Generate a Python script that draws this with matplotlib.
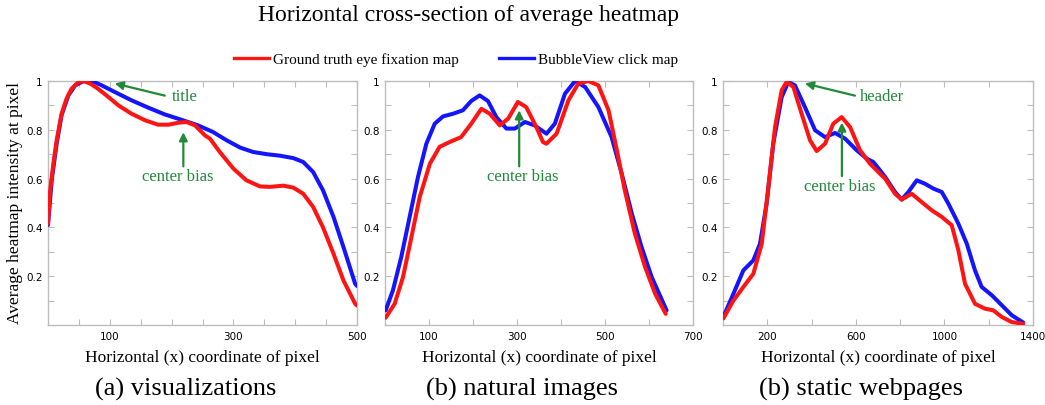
import numpy as np
import matplotlib
matplotlib.use("Agg")
import matplotlib.pyplot as plt
from matplotlib.lines import Line2D

SERIF = "Liberation Serif"
RED = "#ff1414"
BLUE = "#1414ff"
GREEN = "#23893a"
GRID = "#bdbdbd"

# (a) visualizations
vis_x_gt = [0, 3, 8.6, 14, 22, 30, 38, 49, 57, 68, 81, 98, 114, 135, 157, 178, 195, 211, 224, 238, 254,
            262, 278, 300, 321, 343, 359, 381, 397, 413, 429, 445, 462, 478, 497, 500]
vis_y_gt = [0.415, 0.54, 0.66, 0.757, 0.866, 0.927, 0.968, 0.995, 1.0, 0.99, 0.968, 0.934, 0.90, 0.866, 0.839,
            0.821, 0.821, 0.829, 0.832, 0.818, 0.777, 0.764, 0.709, 0.641, 0.593, 0.568, 0.566, 0.571, 0.563,
            0.538, 0.484, 0.40, 0.292, 0.183, 0.087, 0.08]
vis_x_bv = [0, 6, 14, 22, 33, 44, 57, 71, 87, 108, 135, 162, 189, 216, 243, 267, 289, 311, 332, 354, 375,
            397, 413, 429, 445, 462, 478, 497, 500]
vis_y_bv = [0.41, 0.593, 0.743, 0.86, 0.941, 0.982, 0.999, 1.0, 0.982, 0.955, 0.921, 0.891, 0.863, 0.841,
            0.818, 0.791, 0.757, 0.727, 0.709, 0.70, 0.694, 0.684, 0.668, 0.627, 0.552, 0.443, 0.32, 0.169, 0.16]

# (b) natural images
nat_x_gt = [1.5, 22, 41, 60, 79, 102, 124, 147, 173, 196, 219, 238, 261, 280, 302, 321, 344, 359, 367, 390,
            417, 439, 462, 485, 508, 527, 545, 568, 591, 614, 638]
nat_y_gt = [0.03, 0.087, 0.197, 0.36, 0.525, 0.661, 0.73, 0.75, 0.77, 0.825, 0.886, 0.866, 0.818, 0.846,
            0.914, 0.893, 0.811, 0.75, 0.743, 0.784, 0.921, 0.989, 1.0, 0.982, 0.88, 0.716, 0.552, 0.374,
            0.238, 0.128, 0.046]
nat_x_bv = [1.5, 18, 37, 56, 75, 94, 113, 132, 155, 177, 196, 215, 234, 253, 276, 295, 318, 340, 367, 386,
            409, 432, 455, 485, 515, 538, 561, 583, 606, 640]
nat_y_bv = [0.06, 0.142, 0.279, 0.443, 0.607, 0.743, 0.825, 0.855, 0.866, 0.88, 0.918, 0.941, 0.918, 0.852,
            0.805, 0.805, 0.832, 0.818, 0.784, 0.825, 0.948, 1.0, 0.975, 0.893, 0.77, 0.62, 0.456, 0.32,
            0.197, 0.06]

# (c) static webpages
web_x_gt = [1.5, 47, 92, 137, 175, 205, 235, 265, 288, 318, 355, 393, 423, 461, 498, 536, 574, 619, 664,
            709, 732, 777, 807, 852, 897, 943, 988, 1033, 1063, 1093, 1138, 1183, 1221, 1259, 1304, 1356]
web_y_gt = [0.027, 0.10, 0.156, 0.21, 0.333, 0.566, 0.811, 0.962, 0.997, 0.975, 0.866, 0.757, 0.713, 0.743,
            0.825, 0.852, 0.811, 0.716, 0.661, 0.62, 0.60, 0.538, 0.514, 0.538, 0.504, 0.47, 0.443, 0.409,
            0.306, 0.169, 0.087, 0.067, 0.06, 0.033, 0.012, 0.005]
web_x_bv = [1.5, 47, 92, 137, 167, 197, 227, 265, 295, 325, 370, 416, 461, 506, 551, 604, 649, 679, 709,
            732, 777, 807, 837, 875, 912, 950, 988, 1018, 1063, 1101, 1138, 1168, 1214, 1259, 1304, 1356]
web_y_bv = [0.033, 0.128, 0.224, 0.265, 0.333, 0.497, 0.743, 0.934, 0.996, 0.982, 0.893, 0.798, 0.77, 0.787,
            0.764, 0.716, 0.682, 0.668, 0.634, 0.607, 0.545, 0.514, 0.545, 0.593, 0.579, 0.559, 0.545, 0.497,
            0.415, 0.333, 0.224, 0.156, 0.122, 0.081, 0.04, 0.01]

panels = [
    dict(left=48, width=309, xlim=500, xticks=np.arange(50, 501, 50), xlabels=[100, 300, 500],
         gt=(vis_x_gt, vis_y_gt), bv=(vis_x_bv, vis_y_bv), caption="(a) visualizations"),
    dict(left=385, width=308, xlim=700, xticks=np.arange(100, 701, 100), xlabels=[100, 300, 500, 700],
         gt=(nat_x_gt, nat_y_gt), bv=(nat_x_bv, nat_y_bv), caption="(b) natural images"),
    dict(left=723, width=310, xlim=1400, xticks=np.arange(200, 1401, 200), xlabels=[200, 600, 1000, 1400],
         gt=(web_x_gt, web_y_gt), bv=(web_x_bv, web_y_bv), caption="(b) static webpages"),
]

W, H = 1045, 406
fig = plt.figure(figsize=(W / 100, H / 100), dpi=100)

axes = []
for p in panels:
    ax = fig.add_axes([p["left"] / W, 1 - 326 / H, p["width"] / W, 244 / H])
    ax.plot(*p["bv"], color=BLUE, lw=2.9, solid_capstyle="round", solid_joinstyle="round", zorder=3)
    ax.plot(*p["gt"], color=RED, lw=2.9, solid_capstyle="round", solid_joinstyle="round", zorder=4)
    ax.set_xlim(0, p["xlim"])
    ax.set_ylim(0, 1)
    ax.set_xticks(p["xticks"])
    ax.set_xticklabels([str(t) if t in p["xlabels"] else "" for t in p["xticks"]])
    yt = np.round(np.arange(0.1, 1.01, 0.1), 1)
    ax.set_yticks(yt)
    ax.set_yticklabels(["1" if t == 1 else (f"{t:.1f}" if round(t * 10) % 2 == 0 else "") for t in yt])
    ax.tick_params(direction="in", length=4, width=0.8, color=GRID, labelsize=7.5,
                   top=True, right=True, pad=4)
    for s in ax.spines.values():
        s.set_color(GRID)
        s.set_linewidth(1.0)
    ax.set_xlabel("Horizontal (x) coordinate of pixel", family=SERIF, fontsize=12.5, labelpad=6)
    fig.text((p["left"] + p["width"] / 2 - 17) / W, 1 - 389 / H, p["caption"],
             family=SERIF, fontsize=19, ha="center", va="center")
    axes.append(ax)

fig.text(15 / W, 0.5, "Average heatmap intensity at pixel", family=SERIF, fontsize=12.5,
         rotation=90, ha="center", va="center")

fig.text(469 / W, 1 - 16 / H, "Horizontal cross-section of average heatmap",
         family=SERIF, fontsize=17, ha="center", va="center")

handles = [Line2D([], [], color=RED, lw=2.4), Line2D([], [], color=BLUE, lw=2.4)]
fig.legend(handles, ["Ground truth eye fixation map", "BubbleView click map"],
           loc="center", bbox_to_anchor=(456 / W, 1 - 60 / H), ncol=2, frameon=False,
           prop=dict(family=SERIF, size=11), handlelength=2.3, handletextpad=0.26,
           columnspacing=2.6)

arrow = dict(arrowstyle="-|>", color=GREEN, lw=1.6, mutation_scale=12, shrinkA=0, shrinkB=0)
txt = dict(color=GREEN, family=SERIF, fontsize=12)

a1, a2, a3 = axes
a1.annotate("", xy=(108, 0.99), xytext=(189, 0.94), arrowprops=arrow)
a1.text(201, 0.94, "title", ha="left", va="center", **txt)
a1.annotate("", xy=(219, 0.79), xytext=(219, 0.65), arrowprops=arrow)
a1.text(210, 0.61, "center bias", ha="center", va="center", **txt)

a2.annotate("", xy=(305, 0.88), xytext=(305, 0.65), arrowprops=arrow)
a2.text(314, 0.61, "center bias", ha="center", va="center", **txt)

a3.annotate("", xy=(370, 0.99), xytext=(596, 0.94), arrowprops=arrow)
a3.text(619, 0.94, "header", ha="left", va="center", **txt)
a3.annotate("", xy=(537, 0.83), xytext=(537, 0.61), arrowprops=arrow)
a3.text(528, 0.57, "center bias", ha="center", va="center", **txt)

fig.savefig("out.png", dpi=100)
